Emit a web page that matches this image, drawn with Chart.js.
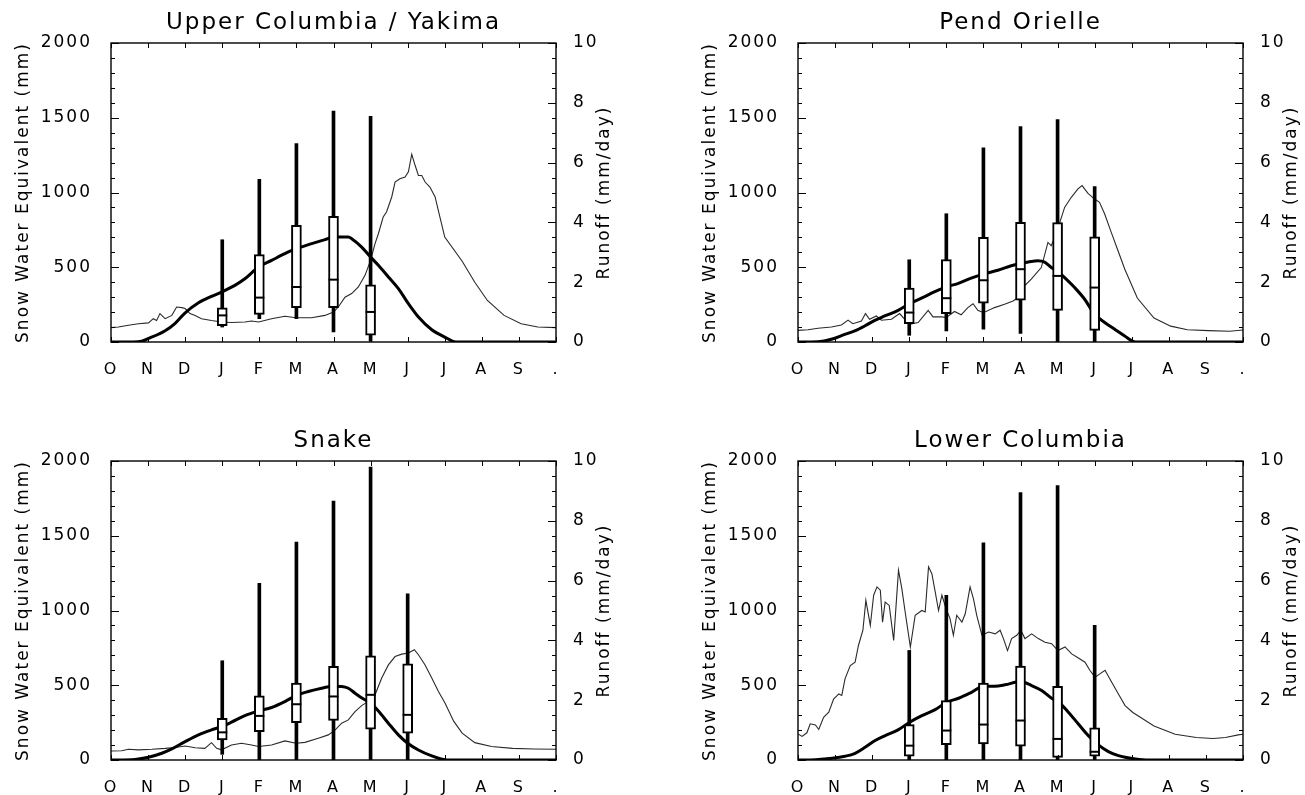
<!DOCTYPE html>
<html>
<head>
<meta charset="utf-8">
<script src="https://cdn.jsdelivr.net/npm/chart.js@4.4.1/dist/chart.umd.min.js"></script>
<style>
html, body { margin:0; padding:0; background:#fff; overflow:hidden; width:1305px; height:795px; position:relative; }
canvas { position:absolute; }
</style>
</head>
<body>
<canvas id="c1" width="667" height="390" style="left:0px;top:0px"></canvas>
<canvas id="c2" width="667" height="390" style="left:687px;top:0px"></canvas>
<canvas id="c3" width="667" height="390" style="left:0px;top:418px"></canvas>
<canvas id="c4" width="667" height="390" style="left:687px;top:418px"></canvas>
<script>
// ---------- shared labels ----------
const MONTH_LABELS = ['O','N','D','J','F','M','A','M','J','J','A','S','.'];
const LEFT_TITLE = 'Snow Water Equivalent (mm)';
const RIGHT_TITLE = 'Runoff (mm/day)';

// ---------- Upper Columbia / Yakima ----------
const UC_TITLE = 'Upper Columbia / Yakima';
const UC_BOX_X   = [3, 4, 5, 6, 7];
const UC_BOX_MIN = [100, 156, 156, 67, 5];
const UC_BOX_Q1  = [110, 185, 230, 230, 45];
const UC_BOX_MED = [178, 297, 368, 417, 201];
const UC_BOX_Q3  = [228, 584, 780, 841, 383];
const UC_BOX_MAX = [684, 1088, 1327, 1545, 1509];
const UC_SWE_X = [0, 0.6, 0.83, 1.0, 1.46, 1.73, 2.0, 2.36, 2.71, 2.98, 3.34, 3.61, 3.98, 4.33, 4.69, 4.99, 5.41, 5.77, 6.0, 6.4, 6.49, 6.76, 7.0, 7.21, 7.48, 7.75, 8.02, 8.29, 8.65, 9.0, 9.3, 12];
const UC_SWE   = [0, 0, 5, 22, 75, 125, 195, 262, 305, 334, 379, 423, 502, 546, 591, 624, 658, 685, 702, 702, 691, 635, 568, 513, 435, 357, 256, 167, 82, 33, 0, 0];
const UC_RUN_X = [0, 0.2, 0.47, 0.74, 1.01, 1.14, 1.23, 1.32, 1.46, 1.64, 1.77, 1.91, 2.0, 2.13, 2.27, 2.44, 2.71, 2.98, 3.25, 3.61, 3.79, 3.98, 4.33, 4.69, 4.99, 5.41, 5.77, 6.0, 6.13, 6.31, 6.49, 6.67, 6.85, 7.0, 7.12, 7.21, 7.34, 7.43, 7.57, 7.66, 7.79, 7.93, 8.02, 8.11, 8.2, 8.29, 8.38, 8.47, 8.6, 8.74, 8.87, 9.0, 9.47, 9.81, 10.15, 10.6, 11.06, 11.51, 12];
const UC_RUN   = [0.48, 0.50, 0.56, 0.61, 0.64, 0.78, 0.72, 0.95, 0.78, 0.89, 1.17, 1.15, 1.12, 0.95, 0.89, 0.78, 0.72, 0.67, 0.65, 0.67, 0.70, 0.67, 0.78, 0.86, 0.81, 0.81, 0.89, 1.0, 1.17, 1.5, 1.62, 1.84, 2.23, 2.73, 3.29, 3.62, 4.18, 4.35, 4.85, 5.35, 5.46, 5.52, 5.69, 6.28, 5.91, 5.57, 5.57, 5.35, 5.18, 4.85, 4.18, 3.51, 2.70, 2.0, 1.39, 0.89, 0.61, 0.50, 0.48];

// ---------- Pend Orielle ----------
const PO_TITLE = 'Pend Orielle';
const PO_BOX_X   = [3, 4, 5, 6, 7, 8];
const PO_BOX_MIN = [45, 74, 85, 58, 0, 0];
const PO_BOX_Q1  = [123, 190, 259, 279, 212, 78];
const PO_BOX_MED = [197, 293, 413, 487, 442, 364];
const PO_BOX_Q3  = [360, 552, 700, 800, 798, 704];
const PO_BOX_MAX = [550, 858, 1298, 1441, 1488, 1039];
const PO_SWE_X = [0, 0.54, 0.9, 1.26, 1.53, 1.8, 2.07, 2.34, 2.7, 2.99, 3.33, 3.69, 4.0, 4.31, 4.67, 5.0, 5.39, 5.75, 6.0, 6.29, 6.47, 6.65, 6.83, 7.0, 7.19, 7.46, 7.73, 8.0, 8.27, 8.54, 8.81, 9.1, 12];
const PO_SWE   = [0, 2, 18, 51, 74, 107, 145, 174, 212, 253, 293, 337, 369, 391, 427, 454, 480, 510, 525, 539, 543, 534, 498, 472, 431, 364, 286, 185, 130, 85, 40, 0, 0];
const PO_RUN_X = [0, 0.27, 0.54, 0.9, 1.17, 1.35, 1.48, 1.71, 1.82, 1.93, 2.11, 2.25, 2.52, 2.74, 2.88, 2.99, 3.24, 3.51, 3.64, 3.87, 4.0, 4.22, 4.4, 4.58, 4.72, 4.85, 5.0, 5.3, 5.57, 5.8, 6.0, 6.11, 6.29, 6.56, 6.74, 6.83, 6.92, 7.06, 7.19, 7.37, 7.55, 7.66, 7.82, 8.0, 8.13, 8.27, 8.45, 8.63, 8.81, 9.15, 9.6, 10.05, 10.5, 11.07, 11.64, 12];
const PO_RUN   = [0.39, 0.41, 0.46, 0.5, 0.57, 0.73, 0.61, 0.70, 0.95, 0.76, 0.87, 0.73, 0.76, 0.95, 0.76, 0.59, 0.65, 1.06, 0.84, 0.84, 0.82, 1.02, 0.91, 1.15, 1.28, 1.06, 0.98, 1.15, 1.26, 1.37, 1.54, 1.88, 2.10, 2.49, 3.33, 3.22, 3.5, 4.0, 4.5, 4.84, 5.12, 5.23, 4.97, 4.78, 4.67, 4.28, 3.66, 3.05, 2.44, 1.47, 0.80, 0.53, 0.41, 0.38, 0.36, 0.40];

// ---------- Snake ----------
const SN_TITLE = 'Snake';
const SN_BOX_X   = [3, 4, 5, 6, 7, 8];
const SN_BOX_MIN = [38, 0, 0, 0, 0, 0];
const SN_BOX_Q1  = [134, 190, 250, 264, 206, 179];
const SN_BOX_MED = [185, 295, 373, 425, 436, 302];
const SN_BOX_Q3  = [279, 429, 514, 626, 697, 644];
const SN_BOX_MAX = [664, 1182, 1457, 1732, 1960, 1111];
const SN_SWE_X = [0, 0.65, 1.01, 1.37, 1.64, 2.0, 2.36, 2.71, 2.98, 3.25, 3.61, 3.98, 4.33, 4.69, 4.99, 5.32, 5.68, 5.99, 6.22, 6.4, 6.58, 6.8, 7.0, 7.21, 7.48, 7.75, 8.0, 8.29, 8.65, 8.96, 9.2, 12];
const SN_SWE   = [0, 4, 18, 45, 74, 123, 168, 201, 223, 253, 297, 328, 351, 391, 431, 458, 480, 494, 492, 480, 447, 409, 380, 328, 246, 168, 112, 67, 27, 4, 0, 0];
const SN_RUN_X = [0, 0.29, 0.47, 0.74, 1.1, 1.46, 1.73, 2.0, 2.27, 2.53, 2.71, 2.85, 2.98, 3.25, 3.52, 3.79, 3.98, 4.33, 4.69, 4.99, 5.23, 5.59, 5.86, 6.04, 6.22, 6.4, 6.58, 6.76, 6.94, 7.12, 7.3, 7.48, 7.66, 7.84, 8.02, 8.18, 8.29, 8.47, 8.65, 8.83, 9.01, 9.24, 9.47, 9.81, 10.26, 10.83, 11.4, 12];
const SN_RUN   = [0.30, 0.31, 0.36, 0.34, 0.36, 0.39, 0.42, 0.47, 0.41, 0.39, 0.58, 0.39, 0.34, 0.5, 0.56, 0.5, 0.45, 0.5, 0.64, 0.56, 0.59, 0.73, 0.84, 1.0, 1.23, 1.34, 1.62, 1.82, 1.96, 2.18, 2.74, 3.18, 3.46, 3.54, 3.58, 3.69, 3.52, 3.18, 2.74, 2.29, 1.90, 1.3, 0.9, 0.58, 0.45, 0.39, 0.37, 0.36];

// ---------- Lower Columbia ----------
const LC_TITLE = 'Lower Columbia';
const LC_BOX_X   = [3, 4, 5, 6, 7, 8];
const LC_BOX_MIN = [0, 0, 0, 0, 0, 0];
const LC_BOX_Q1  = [25, 103, 107, 92, 18, 25];
const LC_BOX_MED = [96, 197, 237, 264, 141, 55];
const LC_BOX_Q3  = [237, 398, 514, 628, 492, 215];
const LC_BOX_MAX = [733, 1102, 1453, 1788, 1835, 901];
const LC_SWE_X = [0, 0.47, 0.92, 1.27, 1.54, 1.81, 2.08, 2.35, 2.71, 3.01, 3.34, 3.7, 4.01, 4.33, 4.69, 5.01, 5.31, 5.58, 6.0, 6.3, 6.57, 6.84, 7.01, 7.29, 7.56, 7.83, 8.1, 8.37, 8.64, 8.82, 9.2, 9.6, 12];
const LC_SWE   = [0, 2, 11, 25, 45, 85, 130, 163, 203, 253, 297, 337, 387, 413, 454, 494, 494, 503, 525, 498, 465, 413, 391, 320, 241, 163, 101, 56, 29, 18, 4, 0, 0];
const LC_RUN_X = [0, 0.11, 0.24, 0.33, 0.47, 0.56, 0.69, 0.83, 0.96, 1.1, 1.18, 1.27, 1.41, 1.54, 1.63, 1.75, 1.83, 1.95, 2.04, 2.13, 2.22, 2.28, 2.35, 2.46, 2.58, 2.71, 2.8, 2.89, 3.03, 3.16, 3.34, 3.43, 3.52, 3.61, 3.7, 3.79, 3.88, 4.01, 4.1, 4.19, 4.28, 4.42, 4.51, 4.64, 4.73, 4.82, 4.96, 5.14, 5.32, 5.45, 5.54, 5.65, 5.76, 5.9, 6.01, 6.12, 6.3, 6.48, 6.66, 6.84, 7.01, 7.2, 7.38, 7.56, 7.74, 7.87, 8.01, 8.14, 8.28, 8.46, 8.64, 8.82, 9.03, 9.6, 10.17, 10.74, 11.19, 11.53, 11.87, 12];
const LC_RUN   = [0.87, 0.79, 0.91, 1.21, 1.17, 1.02, 1.43, 1.6, 2.04, 2.21, 2.16, 2.72, 3.16, 3.27, 3.83, 4.34, 5.34, 4.5, 5.51, 5.79, 5.68, 4.61, 5.28, 5.17, 4.0, 6.35, 5.73, 4.95, 3.78, 4.84, 5.0, 4.95, 6.46, 6.23, 5.62, 5.0, 5.51, 5.0, 4.73, 4.17, 4.84, 4.61, 4.89, 5.79, 5.4, 4.84, 4.17, 4.28, 4.22, 4.34, 4.06, 3.66, 4.06, 4.17, 4.34, 4.06, 4.22, 4.06, 3.94, 3.89, 3.66, 3.78, 3.55, 3.41, 3.27, 3.0, 2.77, 2.88, 3.0, 2.6, 2.21, 1.82, 1.59, 1.14, 0.86, 0.75, 0.72, 0.75, 0.84, 0.86];

// ---------- build charts ----------
const FONT = '"DejaVu Sans", "Liberation Sans", sans-serif';
Chart.defaults.color = '#000';
Chart.defaults.font.family = FONT;

const pts = (xs, ys) => xs.map((x, i) => ({ x: x, y: ys[i] }));
const spans = (xs, lo, hi) => xs.map((x, i) => ({ x: x, y: [lo[i], hi[i]] }));

const spacingPlugin = {
  id: 'spacing',
  beforeDraw(chart) { chart.ctx.letterSpacing = '2px'; }
};

const framePlugin = {
  id: 'frame',
  afterDraw(chart) {
    const ctx = chart.ctx;
    const a = chart.chartArea;
    const sx = chart.scales.x, sy = chart.scales.y, sy1 = chart.scales.y1;
    ctx.save();
    ctx.strokeStyle = '#000';
    ctx.lineWidth = 1.4;
    ctx.strokeRect(a.left, a.top, a.right - a.left, a.bottom - a.top);
    ctx.lineWidth = 1;
    ctx.beginPath();
    sx.ticks.forEach(t => {
      const px = Math.round(sx.getPixelForValue(t.value)) + 0.5;
      ctx.moveTo(px, a.bottom); ctx.lineTo(px, a.bottom - 5);
      ctx.moveTo(px, a.top); ctx.lineTo(px, a.top + 5);
    });
    sy.ticks.forEach(t => {
      const py = Math.round(sy.getPixelForValue(t.value)) + 0.5;
      const len = (t.value % 500 === 0) ? 8 : 4;
      ctx.moveTo(a.left, py); ctx.lineTo(a.left + len, py);
    });
    sy1.ticks.forEach(t => {
      const py = Math.round(sy1.getPixelForValue(t.value)) + 0.5;
      const len = (t.value % 2 === 0) ? 8 : 4;
      ctx.moveTo(a.right, py); ctx.lineTo(a.right - len, py);
    });
    ctx.stroke();
    // right-hand axis title, reading bottom-to-top
    ctx.letterSpacing = '2px';
    ctx.translate(a.right + 49, (a.top + a.bottom) / 2);
    ctx.rotate(-Math.PI / 2);
    ctx.font = '17px ' + FONT;
    ctx.fillStyle = '#000';
    ctx.textAlign = 'center';
    ctx.textBaseline = 'middle';
    ctx.fillText(RIGHT_TITLE, 0, 0);
    ctx.restore();
    ctx.letterSpacing = '0px';
  }
};

function makePanel(id, title, boxX, bMin, bQ1, bMed, bQ3, bMax, sweX, swe, runX, run) {
  new Chart(document.getElementById(id), {
    type: 'line',
    data: {
      datasets: [
        { type: 'line', label: 'Runoff', data: pts(runX, run), yAxisID: 'y1',
          borderColor: '#2a2a2a', borderWidth: 1.1, pointRadius: 0, tension: 0, order: 5 },
        { type: 'line', label: 'SWE', data: pts(sweX, swe), yAxisID: 'y',
          borderColor: '#000', borderWidth: 3, pointRadius: 0, cubicInterpolationMode: 'monotone', order: 4 },
        { type: 'bar', label: 'range', data: spans(boxX, bMin, bMax), yAxisID: 'y',
          backgroundColor: '#000', borderWidth: 0, barThickness: 3, grouped: false, order: 3 },
        { type: 'bar', label: 'quartiles', data: spans(boxX, bQ1, bQ3), yAxisID: 'y',
          backgroundColor: '#fff', borderColor: '#000', borderWidth: 2, borderSkipped: false,
          barThickness: 10, grouped: false, order: 2 },
        { type: 'line', label: 'median', data: pts(boxX, bMed), yAxisID: 'y', showLine: false,
          pointStyle: 'line', pointRadius: 5, pointBorderWidth: 2, pointBorderColor: '#000', order: 1 }
      ]
    },
    options: {
      responsive: false,
      devicePixelRatio: 1,
      animation: false,
      events: [],
      layout: { padding: 0, autoPadding: false },
      plugins: {
        legend: { display: false },
        tooltip: { enabled: false },
        title: { display: true, text: title, color: '#000',
                 font: { family: FONT, size: 23, weight: 'normal' },
                 padding: { top: 9, bottom: 6.4 } }
      },
      scales: {
        x: {
          type: 'linear', min: 0, max: 12, offset: false,
          grid: { display: false, offset: false }, border: { display: false },
          ticks: { stepSize: 1, autoSkip: false, maxRotation: 0, padding: 10,
                   font: { family: FONT, size: 16 },
                   callback: (v) => MONTH_LABELS[v] !== undefined ? MONTH_LABELS[v] : '' },
          afterFit: (s) => { s.height = 48; }
        },
        y: {
          position: 'left', min: 0, max: 2000,
          grid: { display: false }, border: { display: false },
          ticks: { stepSize: 100, autoSkip: false, padding: 11,
                   font: { family: FONT, size: 17 },
                   callback: (v) => (v % 500 === 0 ? String(v) : '') },
          title: { display: true, text: LEFT_TITLE, color: '#000',
                   font: { family: FONT, size: 17 }, padding: { top: 13, bottom: 0 } },
          afterFit: (s) => { s.width = 111; }
        },
        y1: {
          position: 'right', min: 0, max: 10,
          grid: { display: false }, border: { display: false },
          ticks: { stepSize: 0.5, autoSkip: false, padding: 9,
                   font: { family: FONT, size: 17 },
                   callback: (v) => (v % 2 === 0 ? String(v) : '') },
          afterFit: (s) => { s.width = 111; }
        }
      }
    },
    plugins: [spacingPlugin, framePlugin]
  });
}

makePanel('c1', UC_TITLE, UC_BOX_X, UC_BOX_MIN, UC_BOX_Q1, UC_BOX_MED, UC_BOX_Q3, UC_BOX_MAX, UC_SWE_X, UC_SWE, UC_RUN_X, UC_RUN);
makePanel('c2', PO_TITLE, PO_BOX_X, PO_BOX_MIN, PO_BOX_Q1, PO_BOX_MED, PO_BOX_Q3, PO_BOX_MAX, PO_SWE_X, PO_SWE, PO_RUN_X, PO_RUN);
makePanel('c3', SN_TITLE, SN_BOX_X, SN_BOX_MIN, SN_BOX_Q1, SN_BOX_MED, SN_BOX_Q3, SN_BOX_MAX, SN_SWE_X, SN_SWE, SN_RUN_X, SN_RUN);
makePanel('c4', LC_TITLE, LC_BOX_X, LC_BOX_MIN, LC_BOX_Q1, LC_BOX_MED, LC_BOX_Q3, LC_BOX_MAX, LC_SWE_X, LC_SWE, LC_RUN_X, LC_RUN);
</script>
</body>
</html>
